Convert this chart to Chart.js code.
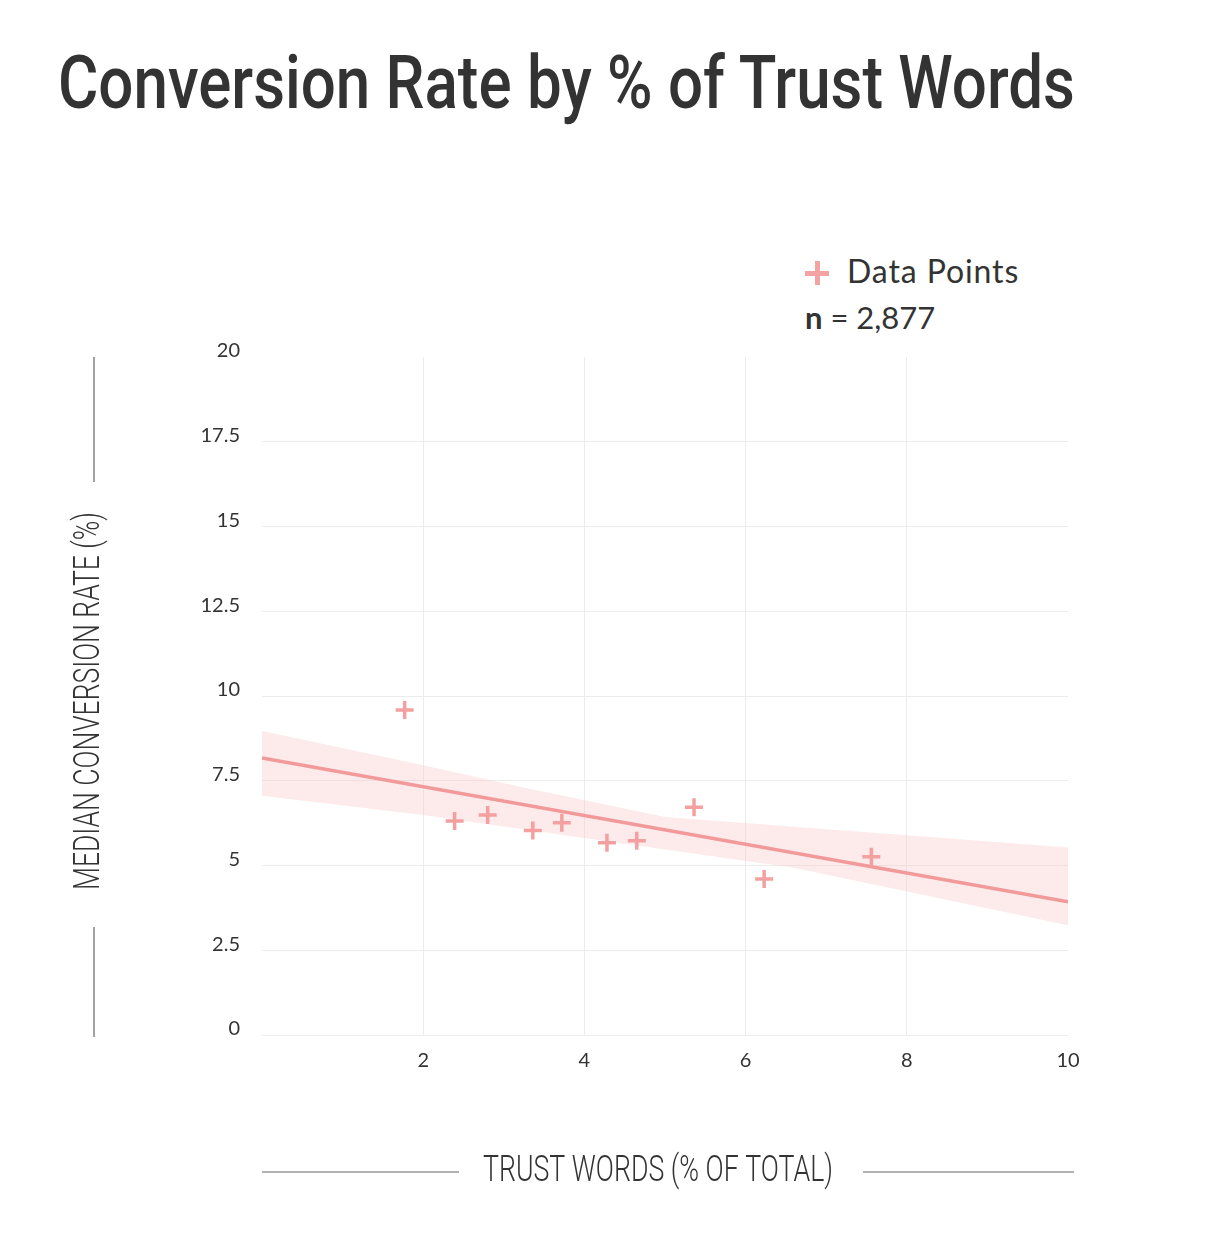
<!DOCTYPE html>
<html>
<head>
<meta charset="utf-8">
<script src="https://cdn.jsdelivr.net/npm/chart.js@4.4.1/dist/chart.umd.min.js"></script>
<style>
  html, body { margin: 0; padding: 0; background: #fff; }
  body { width: 1222px; height: 1242px; position: relative; overflow: hidden; font-family: Lato, "Noto Sans", sans-serif; color: #333; }
  #title { position: absolute; left: 58px; top: 46px; margin: 0; font-family: Roboto, sans-serif; font-weight: 500; font-size: 74px; line-height: 1; color: #333; white-space: nowrap; transform-origin: left top; }
  #legend { position: absolute; left: 805px; top: 248px; font-size: 31px; color: #333; }
  #legend .row { height: 46px; line-height: 46px; white-space: nowrap; }
  #legend .first { font-size: 32px; letter-spacing: 0.9px; }
  .cross { display: inline-block; position: relative; width: 24px; height: 24px; vertical-align: -2px; margin-right: 18px; }
  .cross::before, .cross::after { content: ""; position: absolute; background: #f4a3a3; }
  .cross::before { left: 0; top: 10px; width: 24px; height: 5px; }
  .cross::after { left: 10px; top: 0; width: 5px; height: 24px; }
  #wrap { position: absolute; left: 0; top: 0; width: 1222px; height: 1242px; }
</style>
</head>
<body>
<h1 id="title">Conversion Rate by % of Trust Words</h1>
<div id="legend">
  <div class="row first"><span class="cross"></span>Data Points</div>
  <div class="row"><b>n</b> = 2,877</div>
</div>
<div id="wrap"><canvas id="chart"></canvas></div>
<script>
// data
const trustPct = [1.77, 2.39, 2.80, 3.36, 3.72, 4.28, 4.65, 5.36, 6.23, 7.56]
const convRate = [9.59, 6.31, 6.49, 6.03, 6.26, 5.67, 5.73, 6.72, 4.60, 5.26]

const fitX = [0, 10]
const fitY = [8.17, 3.93]

const bandUpperX = [0, 2, 3.2, 5, 6.6, 10]
const bandUpperY = [8.97, 7.96, 7.32, 6.43, 6.14, 5.53]
const bandLowerX = [0, 2, 4, 6.6, 10]
const bandLowerY = [7.06, 6.49, 5.81, 4.93, 3.24]

const xTicks = [0, 2, 4, 6, 8, 10]
const yTicks = [0, 2.5, 5, 7.5, 10, 12.5, 15, 17.5, 20]

const xTitle = 'TRUST WORDS (% OF TOTAL)'
const yTitle = 'MEDIAN CONVERSION RATE (%)'

const pink = '#f4a0a0'
const lineColor = '#f29a9a'
const bandColor = 'rgba(250, 200, 200, 0.38)'
const gridColor = '#ececec'

// squeeze the title to match the condensed face
const title = document.getElementById('title')
title.style.transform = 'scaleX(' + (1017 / title.offsetWidth) + ')'

const toPoints = (xs, ys) => xs.map((x, i) => ({ x: x, y: ys[i] }))

// axis titles with the thin rules on either side
const axisTitles = {
  id: 'axisTitles',
  afterDraw(chart) {
    const ctx = chart.ctx
    const area = chart.chartArea
    ctx.save()
    ctx.strokeStyle = '#666'
    ctx.lineWidth = 1.2
    ctx.fillStyle = '#333'
    ctx.font = '300 36px Roboto'
    ctx.textAlign = 'center'
    ctx.textBaseline = 'middle'

    // x title
    let w = ctx.measureText(xTitle).width
    ctx.save()
    ctx.translate(658, 1172)
    ctx.scale(350 / w, 1)
    ctx.fillText(xTitle, 0, 0)
    ctx.restore()
    ctx.beginPath()
    ctx.moveTo(area.left, 1172); ctx.lineTo(459, 1172)
    ctx.moveTo(863, 1172); ctx.lineTo(1074, 1172)
    ctx.stroke()

    // y title
    w = ctx.measureText(yTitle).width
    ctx.save()
    ctx.translate(90, 701)
    ctx.rotate(-Math.PI / 2)
    ctx.scale(378 / w, 1)
    ctx.fillText(yTitle, 0, 0)
    ctx.restore()
    ctx.beginPath()
    ctx.moveTo(94, area.top); ctx.lineTo(94, 482)
    ctx.moveTo(94, 927); ctx.lineTo(94, 1037)
    ctx.stroke()
    ctx.restore()
  }
}

const chart = new Chart(document.getElementById('chart'), {
  type: 'scatter',
  data: {
    datasets: [
      {
        label: 'Data Points',
        data: toPoints(trustPct, convRate),
        pointStyle: 'cross',
        pointRadius: 9,
        pointBorderWidth: 3.5,
        borderColor: pink,
        backgroundColor: pink,
        order: 0
      },
      {
        label: 'Fit',
        type: 'line',
        data: toPoints(fitX, fitY),
        borderColor: lineColor,
        borderWidth: 3.5,
        pointRadius: 0,
        fill: false,
        order: 1
      },
      {
        label: 'Upper',
        type: 'line',
        data: toPoints(bandUpperX, bandUpperY),
        borderWidth: 0,
        borderColor: 'transparent',
        pointRadius: 0,
        backgroundColor: bandColor,
        fill: '+1',
        order: 2
      },
      {
        label: 'Lower',
        type: 'line',
        data: toPoints(bandLowerX, bandLowerY),
        borderWidth: 0,
        borderColor: 'transparent',
        pointRadius: 0,
        fill: false,
        order: 3
      }
    ]
  },
  options: {
    responsive: true,
    maintainAspectRatio: false,
    animation: false,
    layout: { padding: { left: 0, top: 357, right: 154, bottom: 147 } },
    plugins: {
      legend: { display: false },
      tooltip: { enabled: false }
    },
    scales: {
      x: {
        type: 'linear',
        min: 0,
        max: 10,
        afterFit: scale => { scale.height = 60 },
        afterBuildTicks: scale => { scale.ticks = xTicks.map(v => ({ value: v })) },
        border: { display: false },
        grid: {
          drawTicks: false,
          color: c => (c.tick && (c.tick.value === 0 || c.tick.value === 10)) ? 'transparent' : gridColor
        },
        ticks: {
          padding: 14,
          color: '#333',
          font: { family: 'Lato', size: 20 },
          callback: v => v === 0 ? '' : String(v)
        }
      },
      y: {
        type: 'linear',
        min: 0,
        max: 20,
        afterFit: scale => { scale.width = 262 },
        afterBuildTicks: scale => { scale.ticks = yTicks.map(v => ({ value: v })) },
        border: { display: false },
        grid: {
          drawTicks: false,
          color: c => (c.tick && c.tick.value === 20) ? 'transparent' : gridColor
        },
        ticks: {
          padding: 22,
          labelOffset: -6,
          color: '#333',
          font: { family: 'Lato', size: 20 },
          callback: v => String(v)
        }
      }
    }
  },
  plugins: [axisTitles]
})
</script>
</body>
</html>
